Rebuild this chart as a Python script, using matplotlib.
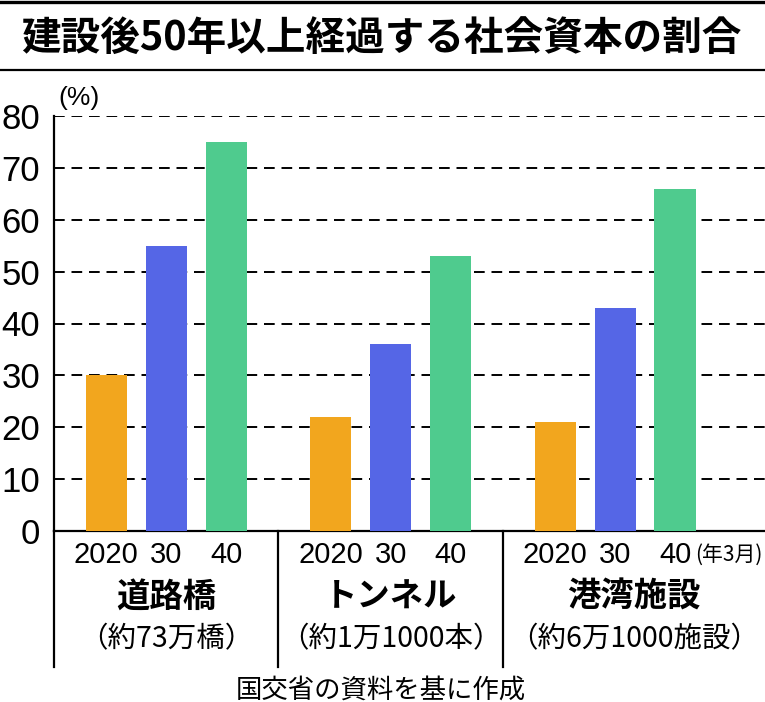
import matplotlib
matplotlib.use("Agg")
import matplotlib.pyplot as plt
import matplotlib.transforms as mtransforms
import numpy as np

plt.rcParams['font.family'] = ['Noto Sans CJK JP', 'DejaVu Sans']

title = "建設後50年以上経過する社会資本の割合"
categories = ["道路橋", "トンネル", "港湾施設"]
counts = ["（約73万橋）", "（約1万1000本）", "（約6万1000施設）"]
years = ["2020", "30", "40"]
road = [30, 55, 75]
tunnel = [22, 36, 53]
port = [21, 43, 66]
yticks = [0, 10, 20, 30, 40, 50, 60, 70, 80]
source = "国交省の資料を基に作成"

series = [road, tunnel, port]
colors = ["#F2A61E", "#5566E6", "#4FCB8E"]

W, H = 765, 702
fig = plt.figure(figsize=(W / 100, H / 100), dpi=100)

# axes placement (pixels)
ax_l, ax_r, ax_b, ax_t = 54, 765, 531, 116
ax = fig.add_axes([ax_l / W, (H - ax_b) / H, (ax_r - ax_l) / W, (ax_b - ax_t) / H])

ax.set_ylim(0, 80)
ax.set_xlim(-0.5, 2.668)

offs = [-0.267, 0.0, 0.267]
bw = 0.183
for gi, vals in enumerate(series):
    for bi, v in enumerate(vals):
        ax.bar(gi + offs[bi], v, width=bw, color=colors[bi], zorder=3, linewidth=0)

# dashed gridlines
for t in yticks[1:]:
    ax.axhline(t, color="black", lw=1.4, ls=(0, (5.5, 3.5)), zorder=1)

for s in ["top", "right"]:
    ax.spines[s].set_visible(False)
ax.spines["left"].set_linewidth(1.6)
ax.spines["bottom"].set_linewidth(1.6)

ax.set_yticks(yticks)
ax.set_yticklabels([str(t) for t in yticks], fontfamily=['Liberation Sans', 'DejaVu Sans'], fontsize=25)
ax.tick_params(axis="y", length=0, pad=10)
ax.set_xticks([])

# vertical separators extending below axis
trans = mtransforms.blended_transform_factory(ax.transData, ax.transAxes)
ybot = (ax_b - 667) / (ax_b - ax_t)
for x in [-0.5, 0.5, 1.5]:
    ax.plot([x, x], [0, ybot], color="black", lw=1.6, transform=trans, clip_on=False, zorder=5)

# year labels
narrow = ['Liberation Sans Narrow', 'Liberation Sans', 'DejaVu Sans']
for gi in range(3):
    for bi, y in enumerate(years):
        ax.text(gi + offs[bi], (ax_b - 555) / (ax_b - ax_t), y, transform=trans,
                ha="center", va="center", fontsize=21, fontfamily=narrow)
ax.text(2 + offs[2] + 0.088, (ax_b - 555) / (ax_b - ax_t), "(年3月)", transform=trans,
        ha="left", va="center", fontsize=15,
        fontfamily=['Noto Sans CJK JP', 'DejaVu Sans'])

# category labels, centered on sections
sect_centers_px = [166, 390.5, 634]
for c, lab, cnt in zip(sect_centers_px, categories, counts):
    fig.text(c / W, 1 - 597 / H, lab, ha="center", va="center", fontsize=24, fontweight="bold")
    fig.text(c / W, 1 - 639 / H, cnt, ha="center", va="center", fontsize=20.5)

# percent unit
fig.text(79 / W, 1 - 98 / H, "(%)", ha="center", va="center", fontsize=19,
         fontfamily=['Liberation Sans', 'DejaVu Sans'])

# title and lines
fig.text(381 / W, 1 - 38 / H, title, ha="center", va="center", fontsize=28.5, fontweight="bold")
fig.add_artist(plt.Line2D([0, 1], [1 - 1.5 / H, 1 - 1.5 / H], color="black", lw=2.4, transform=fig.transFigure))
fig.add_artist(plt.Line2D([0, 1], [1 - 70 / H, 1 - 70 / H], color="black", lw=1.6, transform=fig.transFigure))

# source
fig.text(381 / W, 1 - 690 / H, source, ha="center", va="center", fontsize=19)

fig.savefig("out.png", dpi=100)
